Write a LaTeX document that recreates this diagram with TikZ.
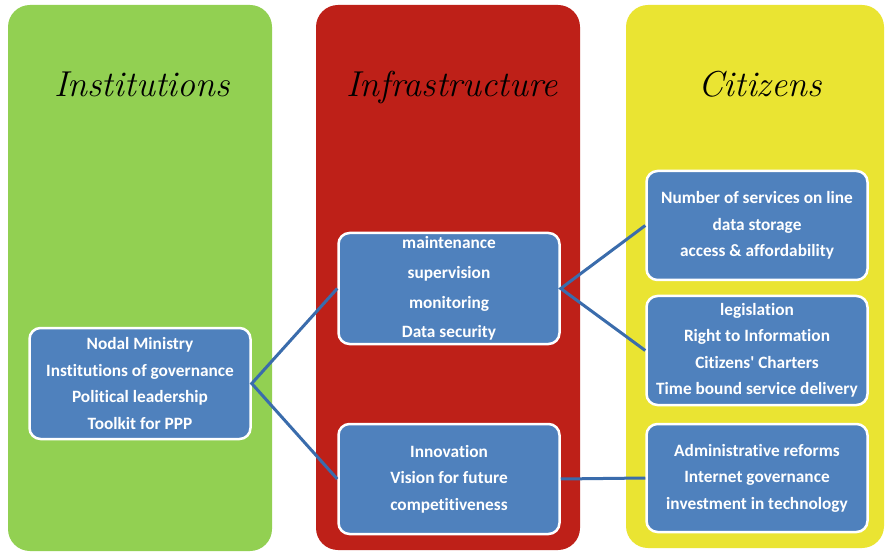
\documentclass[tikz,border=0pt]{standalone}
\usepackage{fontspec}
\newfontfamily\boxfont[Ligatures=NoCommon]{Carlito}
\definecolor{panelgreen}{RGB}{146,208,82}
\definecolor{panelred}{RGB}{190,32,24}
\definecolor{panelyellow}{RGB}{234,228,50}
\definecolor{boxblue}{RGB}{79,129,189}
\definecolor{linkblue}{RGB}{58,108,172}
\begin{document}
\begin{tikzpicture}[x=1pt,y=-1pt,
  panel/.style={rounded corners=22pt},
  heading/.style={font=\fontsize{36}{40}\selectfont\itshape, text=black, anchor=base},
  infobox/.style={draw=white, line width=2.5pt, fill=boxblue, rounded corners=11pt,
    text=white, align=center, inner sep=0pt, minimum width=221pt,
    font=\boxfont\bfseries\fontsize{17.3}{26.5}\selectfont},
  link/.style={draw=linkblue, line width=3pt}]
\useasboundingbox[fill=white] (0,0) rectangle (886,553);

% column panels
\fill[panel, panelgreen]  (8,5)   rectangle (272,551);
\fill[panel, panelred]    (316,5) rectangle (580,550);
\fill[panel, panelyellow] (626,5) rectangle (884,548);

% column headings
\node[heading] (hInst)  at (142,97) {Institutions};
\node[heading] (hInfra) at (452,97) {Infrastructure};
\node[heading] (hCit)   at (760,97) {Citizens};

% institutions
\node[infobox, minimum height=111pt] (inst) at (140,383.5)
  {Nodal Ministry\\Institutions of governance\\Political leadership\\Toolkit for PPP};

% infrastructure
\node[infobox, minimum height=111pt,
      font=\boxfont\bfseries\fontsize{17.3}{29.8}\selectfont] (infA) at (449,288.5)
  {maintenance\\supervision\\monitoring\\Data security};
\node[infobox, minimum height=110pt] (infB) at (449,479)
  {Innovation\\Vision for future\\competitiveness};

% citizens
\node[infobox, minimum height=109pt] (citA) at (757,225.5)
  {Number of services on line\\data storage\\access \& affordability};
\node[infobox, minimum height=109pt] (citB) at (757,350.5)
  {legislation\\Right to Information\\Citizens' Charters\\Time bound service delivery};
\node[infobox, minimum height=108pt] (citC) at (757,478)
  {Administrative reforms\\Internet governance\\investment in technology};

% connectors
\draw[link] (infA.west) -- (inst.east) -- (infB.west);
\draw[link] (citA.west) -- (infA.east) -- (citB.west);
\draw[link] (infB.east) -- (citC.west);
\end{tikzpicture}
\end{document}
